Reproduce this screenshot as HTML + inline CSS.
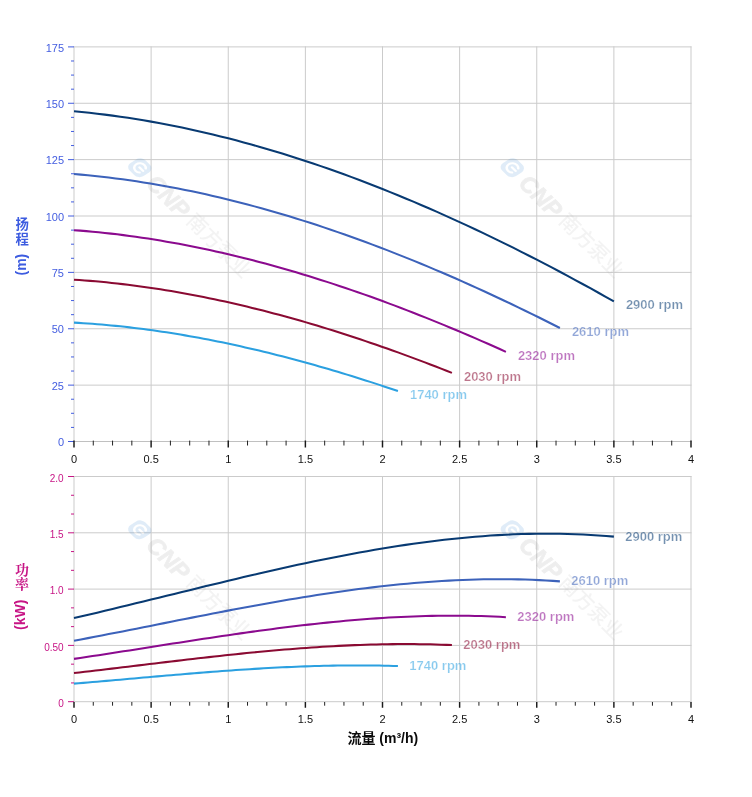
<!DOCTYPE html>
<html lang="zh"><head><meta charset="utf-8"><title>Pump curves</title>
<style>
html,body{margin:0;padding:0;background:#fff;}
body{width:752px;height:797px;overflow:hidden;}
svg{display:block;}
text{font-family:"Liberation Sans","Noto Sans CJK SC",sans-serif;}
.yl1{font-size:11px;fill:#435de0;text-anchor:end;}
.yl2{font-size:10px;fill:#c71585;text-anchor:end;}
.xl{font-size:11px;fill:#111;text-anchor:middle;}
.rpm{font-size:13px;font-weight:bold;stroke:#fff;stroke-width:0.22;}
.curve{fill:none;stroke-width:2.05;stroke-linecap:butt;stroke-linejoin:round;}
.wm{opacity:0.14;}
</style></head><body>
<svg width="752" height="797" viewBox="0 0 752 797">
<rect width="752" height="797" fill="#fff"/>

<path d="M74.00 46.40 V442.00 M151.12 46.40 V442.00 M228.25 46.40 V442.00 M305.38 46.40 V442.00 M382.50 46.40 V442.00 M459.62 46.40 V442.00 M536.75 46.40 V442.00 M613.88 46.40 V442.00 M691.00 46.40 V442.00 M73.50 441.50 H691.50 M73.50 385.13 H691.50 M73.50 328.76 H691.50 M73.50 272.39 H691.50 M73.50 216.01 H691.50 M73.50 159.64 H691.50 M73.50 103.27 H691.50 M73.50 46.90 H691.50" stroke="#cbcbcb" stroke-width="1" fill="none"/>
<path d="M74.00 441.50 H691.00" stroke="#c0c0c0" stroke-width="1" fill="none"/>
<g class="wm" transform="translate(139.8 167.7) rotate(45)">
<g transform="skewX(-12)"><rect x="-9.2" y="-9.2" width="18.4" height="18.4" rx="6" fill="#2a7fd0"/><path d="M4 -3.6 A5.2 5.2 0 1 0 4 3.6 M4.6 0 H-0.4" fill="none" stroke="#fff" stroke-width="2.3" stroke-linecap="round"/></g>
<text x="15.5" y="8.2" font-size="23.5" font-weight="bold" font-style="italic" fill="#8c8c8c" stroke="#8c8c8c" stroke-width="0.8">CNP</text>
<text x="70.5" y="6.2" font-size="20.3" font-weight="500" fill="#adadad">南方泵业</text>
</g>
<g class="wm" transform="translate(512.3 167.7) rotate(45)">
<g transform="skewX(-12)"><rect x="-9.2" y="-9.2" width="18.4" height="18.4" rx="6" fill="#2a7fd0"/><path d="M4 -3.6 A5.2 5.2 0 1 0 4 3.6 M4.6 0 H-0.4" fill="none" stroke="#fff" stroke-width="2.3" stroke-linecap="round"/></g>
<text x="15.5" y="8.2" font-size="23.5" font-weight="bold" font-style="italic" fill="#8c8c8c" stroke="#8c8c8c" stroke-width="0.8">CNP</text>
<text x="70.5" y="6.2" font-size="20.3" font-weight="500" fill="#adadad">南方泵业</text>
</g>
<path d="M68.00 441.50 H74.00 M68.00 385.13 H74.00 M68.00 328.76 H74.00 M68.00 272.39 H74.00 M68.00 216.01 H74.00 M68.00 159.64 H74.00 M68.00 103.27 H74.00 M68.00 46.90 H74.00 M71.00 427.41 H74.00 M71.00 413.31 H74.00 M71.00 399.22 H74.00 M71.00 371.04 H74.00 M71.00 356.94 H74.00 M71.00 342.85 H74.00 M71.00 314.66 H74.00 M71.00 300.57 H74.00 M71.00 286.48 H74.00 M71.00 258.29 H74.00 M71.00 244.20 H74.00 M71.00 230.11 H74.00 M71.00 201.92 H74.00 M71.00 187.83 H74.00 M71.00 173.74 H74.00 M71.00 145.55 H74.00 M71.00 131.46 H74.00 M71.00 117.36 H74.00 M71.00 89.18 H74.00 M71.00 75.09 H74.00 M71.00 60.99 H74.00" stroke="#435de0" stroke-width="1" fill="none"/>
<text class="yl1" x="64" y="446.20">0</text>
<text class="yl1" x="64" y="389.83">25</text>
<text class="yl1" x="64" y="333.46">50</text>
<text class="yl1" x="64" y="277.09">75</text>
<text class="yl1" x="64" y="220.71">100</text>
<text class="yl1" x="64" y="164.34">125</text>
<text class="yl1" x="64" y="107.97">150</text>
<text class="yl1" x="64" y="51.60">175</text>
<path d="M74.00 440.60 V447.50 M151.12 440.60 V447.50 M228.25 440.60 V447.50 M305.38 440.60 V447.50 M382.50 440.60 V447.50 M459.62 440.60 V447.50 M536.75 440.60 V447.50 M613.88 440.60 V447.50 M691.00 440.60 V447.50" stroke="#1a1a1a" stroke-width="1.45" fill="none"/>
<path d="M93.28 440.60 V445.50 M112.56 440.60 V445.50 M131.84 440.60 V445.50 M170.41 440.60 V445.50 M189.69 440.60 V445.50 M208.97 440.60 V445.50 M247.53 440.60 V445.50 M266.81 440.60 V445.50 M286.09 440.60 V445.50 M324.66 440.60 V445.50 M343.94 440.60 V445.50 M363.22 440.60 V445.50 M401.78 440.60 V445.50 M421.06 440.60 V445.50 M440.34 440.60 V445.50 M478.91 440.60 V445.50 M498.19 440.60 V445.50 M517.47 440.60 V445.50 M556.03 440.60 V445.50 M575.31 440.60 V445.50 M594.59 440.60 V445.50 M633.16 440.60 V445.50 M652.44 440.60 V445.50 M671.72 440.60 V445.50" stroke="#222" stroke-width="1" fill="none"/>
<text class="xl" x="74.00" y="462.80">0</text>
<text class="xl" x="151.12" y="462.80">0.5</text>
<text class="xl" x="228.25" y="462.80">1</text>
<text class="xl" x="305.38" y="462.80">1.5</text>
<text class="xl" x="382.50" y="462.80">2</text>
<text class="xl" x="459.62" y="462.80">2.5</text>
<text class="xl" x="536.75" y="462.80">3</text>
<text class="xl" x="613.88" y="462.80">3.5</text>
<text class="xl" x="691.00" y="462.80">4</text>
<path class="curve" stroke="#083a72" d="M74.00 111.26 L81.71 112.00 L89.42 112.80 L97.14 113.68 L104.85 114.62 L112.56 115.62 L120.28 116.69 L127.99 117.83 L135.70 119.03 L143.41 120.29 L151.12 121.62 L158.84 123.01 L166.55 124.47 L174.26 125.99 L181.98 127.57 L189.69 129.21 L197.40 130.92 L205.11 132.68 L212.83 134.50 L220.54 136.39 L228.25 138.33 L235.96 140.34 L243.68 142.40 L251.39 144.52 L259.10 146.70 L266.81 148.93 L274.52 151.22 L282.24 153.57 L289.95 155.98 L297.66 158.43 L305.38 160.95 L313.09 163.52 L320.80 166.14 L328.51 168.82 L336.23 171.55 L343.94 174.33 L351.65 177.16 L359.36 180.05 L367.08 182.99 L374.79 185.97 L382.50 189.01 L390.21 192.10 L397.93 195.24 L405.64 198.43 L413.35 201.66 L421.06 204.95 L428.78 208.28 L436.49 211.66 L444.20 215.08 L451.91 218.56 L459.62 222.07 L467.34 225.64 L475.05 229.24 L482.76 232.90 L490.48 236.59 L498.19 240.34 L505.90 244.12 L513.61 247.95 L521.33 251.81 L529.04 255.72 L536.75 259.68 L544.46 263.67 L552.17 267.70 L559.89 271.78 L567.60 275.89 L575.31 280.04 L583.03 284.23 L590.74 288.46 L598.45 292.73 L606.16 297.03 L613.88 301.37"/>
<text class="rpm" fill="#083a72" fill-opacity="0.56" x="625.88" y="309.27">2900 rpm</text>
<path class="curve" stroke="#3c62ba" d="M74.00 174.01 L80.94 174.61 L87.88 175.26 L94.82 175.96 L101.77 176.72 L108.71 177.54 L115.65 178.40 L122.59 179.32 L129.53 180.30 L136.47 181.32 L143.41 182.40 L150.35 183.53 L157.30 184.71 L164.24 185.94 L171.18 187.22 L178.12 188.55 L185.06 189.93 L192.00 191.36 L198.94 192.83 L205.88 194.36 L212.83 195.94 L219.77 197.56 L226.71 199.23 L233.65 200.95 L240.59 202.71 L247.53 204.52 L254.47 206.38 L261.41 208.28 L268.36 210.23 L275.30 212.22 L282.24 214.25 L289.18 216.33 L296.12 218.46 L303.06 220.63 L310.00 222.84 L316.94 225.09 L323.88 227.39 L330.83 229.72 L337.77 232.10 L344.71 234.52 L351.65 236.99 L358.59 239.49 L365.53 242.03 L372.47 244.61 L379.42 247.23 L386.36 249.89 L393.30 252.59 L400.24 255.33 L407.18 258.10 L414.12 260.91 L421.06 263.76 L428.00 266.65 L434.95 269.57 L441.89 272.53 L448.83 275.53 L455.77 278.56 L462.71 281.62 L469.65 284.72 L476.59 287.85 L483.53 291.02 L490.48 294.22 L497.42 297.46 L504.36 300.72 L511.30 304.02 L518.24 307.35 L525.18 310.72 L532.12 314.11 L539.06 317.54 L546.01 320.99 L552.95 324.48 L559.89 327.99"/>
<text class="rpm" fill="#3c62ba" fill-opacity="0.56" x="571.89" y="335.89">2610 rpm</text>
<path class="curve" stroke="#8b0a8e" d="M74.00 230.15 L80.17 230.62 L86.34 231.14 L92.51 231.69 L98.68 232.29 L104.85 232.94 L111.02 233.62 L117.19 234.35 L123.36 235.12 L129.53 235.93 L135.70 236.78 L141.87 237.67 L148.04 238.60 L154.21 239.57 L160.38 240.58 L166.55 241.64 L172.72 242.73 L178.89 243.86 L185.06 245.02 L191.23 246.23 L197.40 247.47 L203.57 248.76 L209.74 250.08 L215.91 251.43 L222.08 252.83 L228.25 254.26 L234.42 255.72 L240.59 257.23 L246.76 258.76 L252.93 260.34 L259.10 261.95 L265.27 263.59 L271.44 265.27 L277.61 266.98 L283.78 268.73 L289.95 270.51 L296.12 272.32 L302.29 274.17 L308.46 276.05 L314.63 277.96 L320.80 279.91 L326.97 281.89 L333.14 283.89 L339.31 285.93 L345.48 288.00 L351.65 290.11 L357.82 292.24 L363.99 294.40 L370.16 296.59 L376.33 298.82 L382.50 301.07 L388.67 303.35 L394.84 305.66 L401.01 307.99 L407.18 310.36 L413.35 312.75 L419.52 315.18 L425.69 317.63 L431.86 320.10 L438.03 322.60 L444.20 325.13 L450.37 327.69 L456.54 330.27 L462.71 332.88 L468.88 335.51 L475.05 338.17 L481.22 340.85 L487.39 343.55 L493.56 346.28 L499.73 349.04 L505.90 351.82"/>
<text class="rpm" fill="#8b0a8e" fill-opacity="0.56" x="517.90" y="359.72">2320 rpm</text>
<path class="curve" stroke="#8a0a32" d="M74.00 279.68 L79.40 280.05 L84.80 280.44 L90.20 280.87 L95.59 281.33 L100.99 281.82 L106.39 282.34 L111.79 282.90 L117.19 283.49 L122.59 284.11 L127.99 284.76 L133.39 285.44 L138.79 286.16 L144.18 286.90 L149.58 287.67 L154.98 288.48 L160.38 289.31 L165.78 290.18 L171.18 291.07 L176.58 292.00 L181.97 292.95 L187.37 293.93 L192.77 294.94 L198.17 295.98 L203.57 297.05 L208.97 298.14 L214.37 299.26 L219.77 300.42 L225.16 301.59 L230.56 302.80 L235.96 304.03 L241.36 305.29 L246.76 306.57 L252.16 307.89 L257.56 309.22 L262.96 310.59 L268.36 311.97 L273.75 313.39 L279.15 314.83 L284.55 316.29 L289.95 317.78 L295.35 319.29 L300.75 320.83 L306.15 322.39 L311.55 323.98 L316.94 325.59 L322.34 327.22 L327.74 328.88 L333.14 330.56 L338.54 332.26 L343.94 333.98 L349.34 335.73 L354.73 337.49 L360.13 339.28 L365.53 341.10 L370.93 342.93 L376.33 344.78 L381.73 346.66 L387.13 348.55 L392.53 350.47 L397.92 352.41 L403.32 354.36 L408.72 356.34 L414.12 358.34 L419.52 360.35 L424.92 362.38 L430.32 364.44 L435.72 366.51 L441.12 368.60 L446.51 370.71 L451.91 372.84"/>
<text class="rpm" fill="#8a0a32" fill-opacity="0.56" x="463.91" y="380.74">2030 rpm</text>
<path class="curve" stroke="#2ba0e0" d="M74.00 322.61 L78.63 322.88 L83.25 323.17 L87.88 323.48 L92.51 323.82 L97.14 324.18 L101.77 324.57 L106.39 324.98 L111.02 325.41 L115.65 325.87 L120.28 326.34 L124.90 326.85 L129.53 327.37 L134.16 327.92 L138.79 328.48 L143.41 329.08 L148.04 329.69 L152.67 330.32 L157.30 330.98 L161.92 331.66 L166.55 332.36 L171.18 333.08 L175.81 333.82 L180.43 334.59 L185.06 335.37 L189.69 336.18 L194.31 337.00 L198.94 337.85 L203.57 338.71 L208.20 339.60 L212.82 340.50 L217.45 341.43 L222.08 342.37 L226.71 343.33 L231.34 344.32 L235.96 345.32 L240.59 346.34 L245.22 347.38 L249.85 348.43 L254.47 349.51 L259.10 350.60 L263.73 351.72 L268.36 352.85 L272.98 353.99 L277.61 355.16 L282.24 356.34 L286.87 357.54 L291.49 358.76 L296.12 359.99 L300.75 361.24 L305.38 362.51 L310.00 363.79 L314.63 365.09 L319.26 366.40 L323.88 367.73 L328.51 369.08 L333.14 370.44 L337.77 371.82 L342.40 373.21 L347.02 374.62 L351.65 376.04 L356.28 377.48 L360.90 378.93 L365.53 380.40 L370.16 381.88 L374.79 383.37 L379.42 384.88 L384.04 386.41 L388.67 387.94 L393.30 389.49 L397.93 391.05"/>
<text class="rpm" fill="#2ba0e0" fill-opacity="0.56" x="409.93" y="398.95">1740 rpm</text>
<text font-size="13.4" font-weight="bold" fill="#3d5ce0" text-anchor="middle" x="22.3 22.3" y="229 243.9">扬程</text>
<text font-size="14" font-weight="bold" fill="#3d5ce0" transform="translate(25.5 275.5) rotate(-90)">(m)</text>
<path d="M74.00 476.00 V702.20 M151.12 476.00 V702.20 M228.25 476.00 V702.20 M305.38 476.00 V702.20 M382.50 476.00 V702.20 M459.62 476.00 V702.20 M536.75 476.00 V702.20 M613.88 476.00 V702.20 M691.00 476.00 V702.20 M73.50 701.70 H691.50 M73.50 645.40 H691.50 M73.50 589.10 H691.50 M73.50 532.80 H691.50 M73.50 476.50 H691.50" stroke="#cbcbcb" stroke-width="1" fill="none"/>
<g class="wm" transform="translate(139.8 529.8) rotate(45)">
<g transform="skewX(-12)"><rect x="-9.2" y="-9.2" width="18.4" height="18.4" rx="6" fill="#2a7fd0"/><path d="M4 -3.6 A5.2 5.2 0 1 0 4 3.6 M4.6 0 H-0.4" fill="none" stroke="#fff" stroke-width="2.3" stroke-linecap="round"/></g>
<text x="15.5" y="8.2" font-size="23.5" font-weight="bold" font-style="italic" fill="#8c8c8c" stroke="#8c8c8c" stroke-width="0.8">CNP</text>
<text x="70.5" y="6.2" font-size="20.3" font-weight="500" fill="#adadad">南方泵业</text>
</g>
<g class="wm" transform="translate(512.3 529.8) rotate(45)">
<g transform="skewX(-12)"><rect x="-9.2" y="-9.2" width="18.4" height="18.4" rx="6" fill="#2a7fd0"/><path d="M4 -3.6 A5.2 5.2 0 1 0 4 3.6 M4.6 0 H-0.4" fill="none" stroke="#fff" stroke-width="2.3" stroke-linecap="round"/></g>
<text x="15.5" y="8.2" font-size="23.5" font-weight="bold" font-style="italic" fill="#8c8c8c" stroke="#8c8c8c" stroke-width="0.8">CNP</text>
<text x="70.5" y="6.2" font-size="20.3" font-weight="500" fill="#adadad">南方泵业</text>
</g>
<path d="M68.00 701.70 H74.00 M71.00 682.93 H74.00 M71.00 664.17 H74.00 M68.00 645.40 H74.00 M71.00 626.63 H74.00 M71.00 607.87 H74.00 M68.00 589.10 H74.00 M71.00 570.33 H74.00 M71.00 551.57 H74.00 M68.00 532.80 H74.00 M71.00 514.03 H74.00 M71.00 495.27 H74.00 M68.00 476.50 H74.00" stroke="#c71585" stroke-width="1" fill="none"/>
<text class="yl2" x="63.7" y="707.00">0</text>
<text class="yl2" x="63.7" y="650.70">0.50</text>
<text class="yl2" x="63.7" y="594.40">1.0</text>
<text class="yl2" x="63.7" y="538.10">1.5</text>
<text class="yl2" x="63.7" y="481.80">2.0</text>
<path d="M74.00 702.00 V707.70 M151.12 702.00 V707.70 M228.25 702.00 V707.70 M305.38 702.00 V707.70 M382.50 702.00 V707.70 M459.62 702.00 V707.70 M536.75 702.00 V707.70 M613.88 702.00 V707.70 M691.00 702.00 V707.70" stroke="#1a1a1a" stroke-width="1.45" fill="none"/>
<path d="M93.28 702.00 V705.70 M112.56 702.00 V705.70 M131.84 702.00 V705.70 M170.41 702.00 V705.70 M189.69 702.00 V705.70 M208.97 702.00 V705.70 M247.53 702.00 V705.70 M266.81 702.00 V705.70 M286.09 702.00 V705.70 M324.66 702.00 V705.70 M343.94 702.00 V705.70 M363.22 702.00 V705.70 M401.78 702.00 V705.70 M421.06 702.00 V705.70 M440.34 702.00 V705.70 M478.91 702.00 V705.70 M498.19 702.00 V705.70 M517.47 702.00 V705.70 M556.03 702.00 V705.70 M575.31 702.00 V705.70 M594.59 702.00 V705.70 M633.16 702.00 V705.70 M652.44 702.00 V705.70 M671.72 702.00 V705.70" stroke="#222" stroke-width="1" fill="none"/>
<text class="xl" x="74.00" y="723.00">0</text>
<text class="xl" x="151.12" y="723.00">0.5</text>
<text class="xl" x="228.25" y="723.00">1</text>
<text class="xl" x="305.38" y="723.00">1.5</text>
<text class="xl" x="382.50" y="723.00">2</text>
<text class="xl" x="459.62" y="723.00">2.5</text>
<text class="xl" x="536.75" y="723.00">3</text>
<text class="xl" x="613.88" y="723.00">3.5</text>
<text class="xl" x="691.00" y="723.00">4</text>
<path class="curve" stroke="#083a72" d="M74.00 618.07 L81.71 616.29 L89.42 614.48 L97.14 612.66 L104.85 610.83 L112.56 608.98 L120.28 607.12 L127.99 605.25 L135.70 603.37 L143.41 601.49 L151.12 599.60 L158.84 597.70 L166.55 595.81 L174.26 593.91 L181.98 592.02 L189.69 590.13 L197.40 588.24 L205.11 586.36 L212.83 584.49 L220.54 582.63 L228.25 580.77 L235.96 578.93 L243.68 577.11 L251.39 575.30 L259.10 573.51 L266.81 571.74 L274.52 569.99 L282.24 568.26 L289.95 566.55 L297.66 564.87 L305.38 563.22 L313.09 561.59 L320.80 560.00 L328.51 558.43 L336.23 556.90 L343.94 555.41 L351.65 553.95 L359.36 552.53 L367.08 551.14 L374.79 549.80 L382.50 548.50 L390.21 547.25 L397.93 546.04 L405.64 544.87 L413.35 543.76 L421.06 542.69 L428.78 541.68 L436.49 540.72 L444.20 539.81 L451.91 538.96 L459.62 538.17 L467.34 537.44 L475.05 536.76 L482.76 536.15 L490.48 535.60 L498.19 535.12 L505.90 534.70 L513.61 534.35 L521.33 534.07 L529.04 533.86 L536.75 533.73 L544.46 533.66 L552.17 533.67 L559.89 533.76 L567.60 533.93 L575.31 534.17 L583.03 534.50 L590.74 534.91 L598.45 535.40 L606.16 535.98 L613.88 536.64"/>
<text class="rpm" fill="#083a72" fill-opacity="0.56" x="625.27" y="540.54">2900 rpm</text>
<path class="curve" stroke="#3c62ba" d="M74.00 640.74 L80.94 639.43 L87.88 638.12 L94.82 636.79 L101.77 635.45 L108.71 634.11 L115.65 632.75 L122.59 631.39 L129.53 630.02 L136.47 628.64 L143.41 627.27 L150.35 625.89 L157.30 624.50 L164.24 623.12 L171.18 621.74 L178.12 620.36 L185.06 618.99 L192.00 617.62 L198.94 616.25 L205.88 614.89 L212.83 613.54 L219.77 612.20 L226.71 610.87 L233.65 609.56 L240.59 608.25 L247.53 606.96 L254.47 605.68 L261.41 604.42 L268.36 603.18 L275.30 601.95 L282.24 600.75 L289.18 599.56 L296.12 598.40 L303.06 597.26 L310.00 596.14 L316.94 595.05 L323.88 593.99 L330.83 592.95 L337.77 591.94 L344.71 590.97 L351.65 590.02 L358.59 589.10 L365.53 588.22 L372.47 587.37 L379.42 586.56 L386.36 585.78 L393.30 585.05 L400.24 584.34 L407.18 583.68 L414.12 583.06 L421.06 582.49 L428.00 581.95 L434.95 581.46 L441.89 581.01 L448.83 580.61 L455.77 580.26 L462.71 579.96 L469.65 579.70 L476.59 579.50 L483.53 579.35 L490.48 579.25 L497.42 579.20 L504.36 579.21 L511.30 579.27 L518.24 579.39 L525.18 579.57 L532.12 579.81 L539.06 580.11 L546.01 580.47 L552.95 580.89 L559.89 581.37"/>
<text class="rpm" fill="#3c62ba" fill-opacity="0.56" x="571.29" y="585.27">2610 rpm</text>
<path class="curve" stroke="#8b0a8e" d="M74.00 658.88 L80.17 657.97 L86.34 657.05 L92.51 656.11 L98.68 655.17 L104.85 654.23 L111.02 653.27 L117.19 652.32 L123.36 651.36 L129.53 650.39 L135.70 649.42 L141.87 648.45 L148.04 647.48 L154.21 646.51 L160.38 645.54 L166.55 644.57 L172.72 643.61 L178.89 642.65 L185.06 641.69 L191.23 640.73 L197.40 639.79 L203.57 638.84 L209.74 637.91 L215.91 636.98 L222.08 636.07 L228.25 635.16 L234.42 634.26 L240.59 633.38 L246.76 632.50 L252.93 631.64 L259.10 630.80 L265.27 629.97 L271.44 629.15 L277.61 628.35 L283.78 627.56 L289.95 626.80 L296.12 626.05 L302.29 625.32 L308.46 624.62 L314.63 623.93 L320.80 623.26 L326.97 622.62 L333.14 622.00 L339.31 621.40 L345.48 620.83 L351.65 620.29 L357.82 619.77 L363.99 619.28 L370.16 618.81 L376.33 618.38 L382.50 617.97 L388.67 617.60 L394.84 617.25 L401.01 616.94 L407.18 616.66 L413.35 616.41 L419.52 616.20 L425.69 616.02 L431.86 615.87 L438.03 615.77 L444.20 615.70 L450.37 615.66 L456.54 615.67 L462.71 615.72 L468.88 615.80 L475.05 615.93 L481.22 616.09 L487.39 616.30 L493.56 616.55 L499.73 616.85 L505.90 617.19"/>
<text class="rpm" fill="#8b0a8e" fill-opacity="0.56" x="517.30" y="621.09">2320 rpm</text>
<path class="curve" stroke="#8a0a32" d="M74.00 673.02 L79.40 672.40 L84.80 671.78 L90.20 671.16 L95.59 670.53 L100.99 669.90 L106.39 669.26 L111.79 668.62 L117.19 667.97 L122.59 667.33 L127.99 666.68 L133.39 666.03 L138.79 665.38 L144.18 664.73 L149.58 664.08 L154.98 663.43 L160.38 662.78 L165.78 662.14 L171.18 661.50 L176.58 660.86 L181.97 660.22 L187.37 659.59 L192.77 658.97 L198.17 658.35 L203.57 657.73 L208.97 657.12 L214.37 656.52 L219.77 655.93 L225.16 655.34 L230.56 654.77 L235.96 654.20 L241.36 653.64 L246.76 653.10 L252.16 652.56 L257.56 652.03 L262.96 651.52 L268.36 651.02 L273.75 650.53 L279.15 650.06 L284.55 649.60 L289.95 649.15 L295.35 648.72 L300.75 648.31 L306.15 647.91 L311.55 647.53 L316.94 647.16 L322.34 646.81 L327.74 646.48 L333.14 646.17 L338.54 645.88 L343.94 645.61 L349.34 645.36 L354.73 645.13 L360.13 644.92 L365.53 644.73 L370.93 644.56 L376.33 644.42 L381.73 644.30 L387.13 644.20 L392.53 644.13 L397.92 644.08 L403.32 644.06 L408.72 644.07 L414.12 644.10 L419.52 644.15 L424.92 644.24 L430.32 644.35 L435.72 644.49 L441.12 644.66 L446.51 644.86 L451.91 645.09"/>
<text class="rpm" fill="#8a0a32" fill-opacity="0.56" x="463.31" y="648.99">2030 rpm</text>
<path class="curve" stroke="#2ba0e0" d="M74.00 683.64 L78.63 683.25 L83.25 682.86 L87.88 682.47 L92.51 682.07 L97.14 681.67 L101.77 681.27 L106.39 680.87 L111.02 680.46 L115.65 680.05 L120.28 679.65 L124.90 679.24 L129.53 678.83 L134.16 678.42 L138.79 678.01 L143.41 677.60 L148.04 677.19 L152.67 676.79 L157.30 676.38 L161.92 675.98 L166.55 675.58 L171.18 675.18 L175.81 674.79 L180.43 674.40 L185.06 674.01 L189.69 673.63 L194.31 673.25 L198.94 672.88 L203.57 672.51 L208.20 672.14 L212.82 671.79 L217.45 671.44 L222.08 671.09 L226.71 670.75 L231.34 670.42 L235.96 670.10 L240.59 669.79 L245.22 669.48 L249.85 669.18 L254.47 668.89 L259.10 668.61 L263.73 668.34 L268.36 668.08 L272.98 667.83 L277.61 667.58 L282.24 667.35 L286.87 667.14 L291.49 666.93 L296.12 666.73 L300.75 666.55 L305.38 666.38 L310.00 666.22 L314.63 666.07 L319.26 665.94 L323.88 665.82 L328.51 665.72 L333.14 665.63 L337.77 665.55 L342.40 665.49 L347.02 665.45 L351.65 665.42 L356.28 665.40 L360.90 665.41 L365.53 665.43 L370.16 665.46 L374.79 665.51 L379.42 665.58 L384.04 665.67 L388.67 665.78 L393.30 665.90 L397.93 666.05"/>
<text class="rpm" fill="#2ba0e0" fill-opacity="0.56" x="409.32" y="669.95">1740 rpm</text>
<text font-size="14" font-weight="bold" fill="#c71585" text-anchor="middle" x="22 22" y="575 589.3" style="font-family:'Liberation Serif','Noto Serif CJK SC',serif">功率</text>
<text font-size="14" font-weight="bold" fill="#c71585" transform="translate(24.5 630) rotate(-90)">(kW)</text>
<text font-size="14" font-weight="bold" fill="#0a0a0a" text-anchor="middle" x="382.8" y="742.6">流量 (m³/h)</text>
</svg></body></html>
